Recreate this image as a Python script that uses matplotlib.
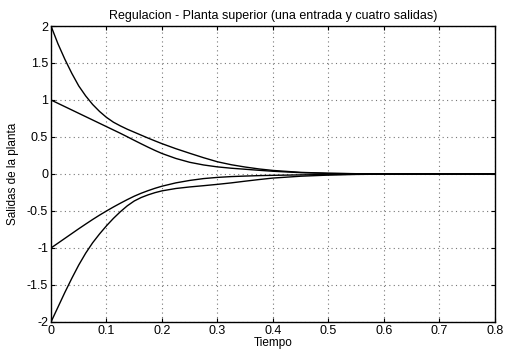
import numpy as np
import matplotlib.pyplot as plt

plt.rcParams['font.family'] = ['Liberation Sans', 'DejaVu Sans']
plt.rcParams['axes.unicode_minus'] = False

t = [0, 0.0125, 0.025, 0.0375, 0.05, 0.0625, 0.075, 0.0875, 0.1, 0.1125,
     0.125, 0.1375, 0.15, 0.1625, 0.175, 0.1875, 0.2, 0.225, 0.25, 0.275,
     0.3, 0.325, 0.35, 0.375, 0.4, 0.45, 0.5, 0.55, 0.6, 0.7, 0.8]
y1 = [2.0, 1.76, 1.55, 1.36, 1.19, 1.055, 0.94, 0.845, 0.765, 0.70,
      0.65, 0.605, 0.565, 0.525, 0.485, 0.447, 0.41, 0.342, 0.28, 0.22,
      0.165, 0.125, 0.094, 0.068, 0.048, 0.022, 0.01, 0.004, 0.001, 0, 0]
y2 = [1.0, 0.955, 0.91, 0.865, 0.82, 0.775, 0.73, 0.685, 0.64, 0.595,
      0.55, 0.503, 0.455, 0.408, 0.362, 0.318, 0.277, 0.21, 0.158, 0.122,
      0.096, 0.078, 0.064, 0.05, 0.037, 0.018, 0.008, 0.003, 0.001, 0, 0]
y3 = [-1.0, -0.935, -0.87, -0.805, -0.74, -0.677, -0.615, -0.556, -0.50, -0.446,
      -0.395, -0.346, -0.30, -0.26, -0.225, -0.193, -0.165, -0.12, -0.087, -0.062,
      -0.046, -0.035, -0.028, -0.022, -0.018, -0.012, -0.007, -0.003, -0.001, 0, 0]
y4 = [-2.0, -1.80, -1.60, -1.41, -1.23, -1.07, -0.93, -0.81, -0.70, -0.60,
      -0.51, -0.43, -0.365, -0.318, -0.282, -0.252, -0.228, -0.196, -0.175, -0.158,
      -0.14, -0.12, -0.097, -0.075, -0.055, -0.03, -0.015, -0.006, -0.002, 0, 0]

xticks = [0, 0.1, 0.2, 0.3, 0.4, 0.5, 0.6, 0.7, 0.8]
xlabels = ['0', '0.1', '0.2', '0.3', '0.4', '0.5', '0.6', '0.7', '0.8']
yticks = [-2, -1.5, -1, -0.5, 0, 0.5, 1, 1.5, 2]
ylabels = ['-2', '-1.5', '-1', '-0.5', '0', '0.5', '1', '1.5', '2']

fig = plt.figure(figsize=(5.06, 3.49), dpi=100)
ax = fig.add_axes([0.1008, 0.0774, 0.8772, 0.8481])

for y in (y1, y2, y3, y4):
    ax.plot(t, y, color='black', linewidth=1.0)

ax.set_xlim(0, 0.8)
ax.set_ylim(-2, 2)
ax.set_xticks(xticks)
ax.set_xticklabels(xlabels)
ax.set_yticks(yticks)
ax.set_yticklabels(ylabels)
ax.tick_params(direction='in', top=True, right=True, length=3, width=0.8,
               labelsize=9, pad=2)
ax.grid(True, linestyle=(0, (1, 3)), color='#777777', linewidth=0.8)
for s in ax.spines.values():
    s.set_linewidth(1.0)

ax.set_title('Regulacion - Planta superior (una entrada y cuatro salidas)',
             fontsize=9, pad=5)
ax.set_xlabel('Tiempo', fontsize=8.5, labelpad=0)
ax.set_ylabel('Salidas de la planta', fontsize=8.5)
ax.yaxis.set_label_coords(-0.072, 0.5)

fig.savefig('out.png', dpi=100)
